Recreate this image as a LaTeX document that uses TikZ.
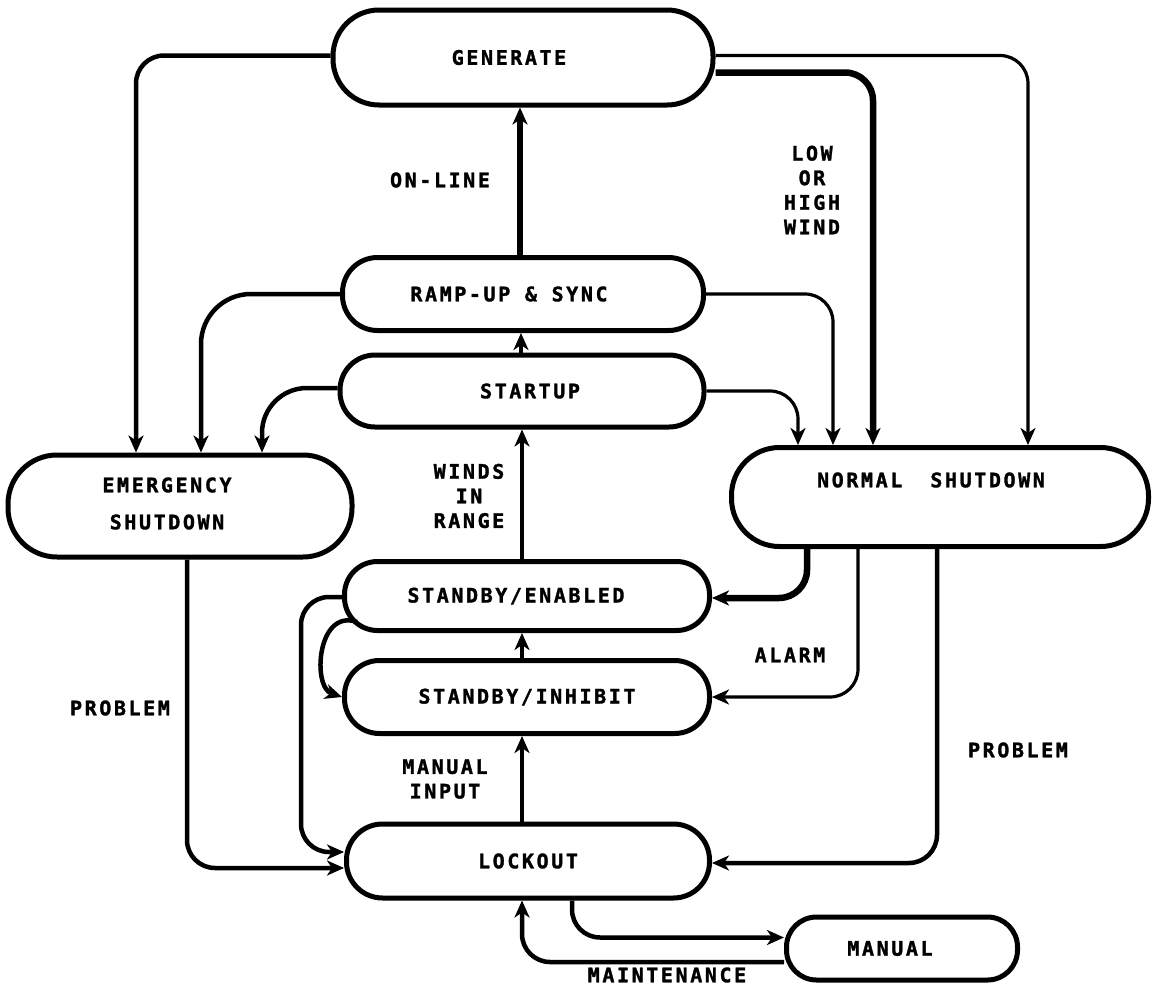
\documentclass[tikz,border=0pt]{standalone}
\usepackage{fontspec}
\newfontfamily\dfont{DejaVu Sans Mono}[LetterSpace=13,FakeBold=1.5]
\usetikzlibrary{arrows.meta,calc}
\newcommand{\padR}[1]{\rule{#1}{0pt}}
\begin{document}
\begin{tikzpicture}[x=1pt,y=-1pt,
  txt/.style={font=\dfont\bfseries\fontsize{20}{24.6}\selectfont, inner sep=0pt, align=center},
  box/.style={draw, line width=5pt, rounded corners=#1, inner sep=0pt, txt},
  tip/.style={-{Stealth[length=17pt,width=15pt,inset=5pt]}},
  conn/.style={line width=4.5pt, rounded corners=28pt, tip},
  thinconn/.style={line width=3.2pt, rounded corners=28pt, tip},
  thickconn/.style={line width=6.5pt, rounded corners=28pt, tip},
]
\useasboundingbox (0,0) rectangle (1152,988);
\fill[white] (0,0) rectangle (1152,988);

% states
\node[box=46pt, minimum width=380pt, minimum height=95pt] (gen) at (523,57.5) {GENERATE\padR{28pt}};
\node[box=35pt, minimum width=361pt, minimum height=73pt] (ramp) at (523,294) {RAMP-UP \& SYNC\padR{28pt}};
\node[box=35pt, minimum width=364pt, minimum height=72pt] (start) at (522,391) {\padR{16pt}STARTUP};
\node[box=49pt, minimum width=344pt, minimum height=102pt] (emerg) at (180,506) {};
\node[txt] (emt) at (167,503.5) {EMERGENCY\\[12.4pt]SHUTDOWN};
\node[box=48pt, minimum width=417pt, minimum height=99pt] (ns) at (940,497) {};
\node[txt] (nst) at (931,480) {NORMAL\hspace{28pt}SHUTDOWN};
\node[box=33pt, minimum width=365pt, minimum height=69pt] (se) at (527,596) {STANDBY/ENABLED\padR{22pt}};
\node[box=35pt, minimum width=365pt, minimum height=73pt] (si) at (527,697) {STANDBY/INHIBIT};
\node[box=36pt, minimum width=363pt, minimum height=74pt] (lock) at (528,861) {LOCKOUT};
\node[box=30pt, minimum width=231pt, minimum height=63pt] (man) at (902,948.5) {MANUAL\padR{24pt}};

% labels
\node[txt] (lonline) at (440,180) {ON-LINE};
\node[txt] (lwind) at (812,190) {LOW\\OR\\HIGH\\WIND};
\node[txt] (lrange) at (469,496) {WINDS\\IN\\RANGE};
\node[txt] (lprob1) at (120,708) {PROBLEM};
\node[txt] (lalarm) at (790,655) {ALARM};
\node[txt] (lprob2) at (1018,750) {PROBLEM};
\node[txt] (linput) at (445,779) {MANUAL\\INPUT};
\node[txt] (lmaint) at (667,975) {MAINTENANCE};

% connectors from GENERATE
\draw[conn] ([yshift=2pt]gen.west) -| ([xshift=-44pt]emerg.north);
\draw[thinconn] ([yshift=2pt]gen.east) -| ([xshift=88pt]ns.north);
\draw[thickconn] ([yshift=-15pt]gen.east) -| ([xshift=-67pt]ns.north);
\draw[thickconn] ([xshift=-3pt]ramp.north) -- ([xshift=-3pt]ramp.north |- gen.south);

% from RAMP-UP
\draw[conn, rounded corners=50pt] (ramp.west) -| ([xshift=21pt]emerg.north);
\draw[thinconn] (ramp.east) -| ([xshift=-107pt]ns.north);

% from STARTUP
\draw[conn] ([xshift=-1pt]start.north) -- ([xshift=-1pt]start.north |- ramp.south);
\draw[conn, rounded corners=45pt] ([yshift=3pt]start.west) -| ([xshift=82pt]emerg.north);
\draw[thinconn] (start.east) -| ([xshift=-142pt]ns.north);

% standby
\draw[conn] ([xshift=-5pt]se.north) -- ([xshift=-5pt]se.north |- start.south);
\draw[conn] ([xshift=-5pt]si.north) -- ([xshift=-5pt]si.north |- se.south);
\draw[conn] ([xshift=-6pt]lock.north) -- ([xshift=-6pt]lock.north |- si.south);

% from NORMAL SHUTDOWN
\draw[thickconn] ([xshift=-133pt]ns.south) |- ([yshift=-2pt]se.east);
\draw[thinconn] ([xshift=-82pt]ns.south) |- (si.east);
\draw[conn] ([xshift=-3pt]ns.south) |- ([yshift=-2pt]lock.east);

% from EMERGENCY
\draw[conn] ([xshift=7pt]emerg.south) |- ([yshift=-7pt]lock.west);

% standby loops
\draw[conn] ([yshift=-1pt]se.west) -| ([xshift=-43pt,yshift=9pt]lock.west) -- ([yshift=9pt]lock.west);
\draw[conn] ([xshift=-170pt,yshift=-26pt]se.center) .. controls +(-40pt,14pt) and +(-30pt,10pt) .. (si.west);

% lockout / manual
\draw[conn] ([xshift=44pt]lock.south) |- ([yshift=11pt]man.west);
\draw[conn] ([yshift=-13.5pt]man.west) -| ([xshift=-6pt]lock.south);
\end{tikzpicture}
\end{document}
